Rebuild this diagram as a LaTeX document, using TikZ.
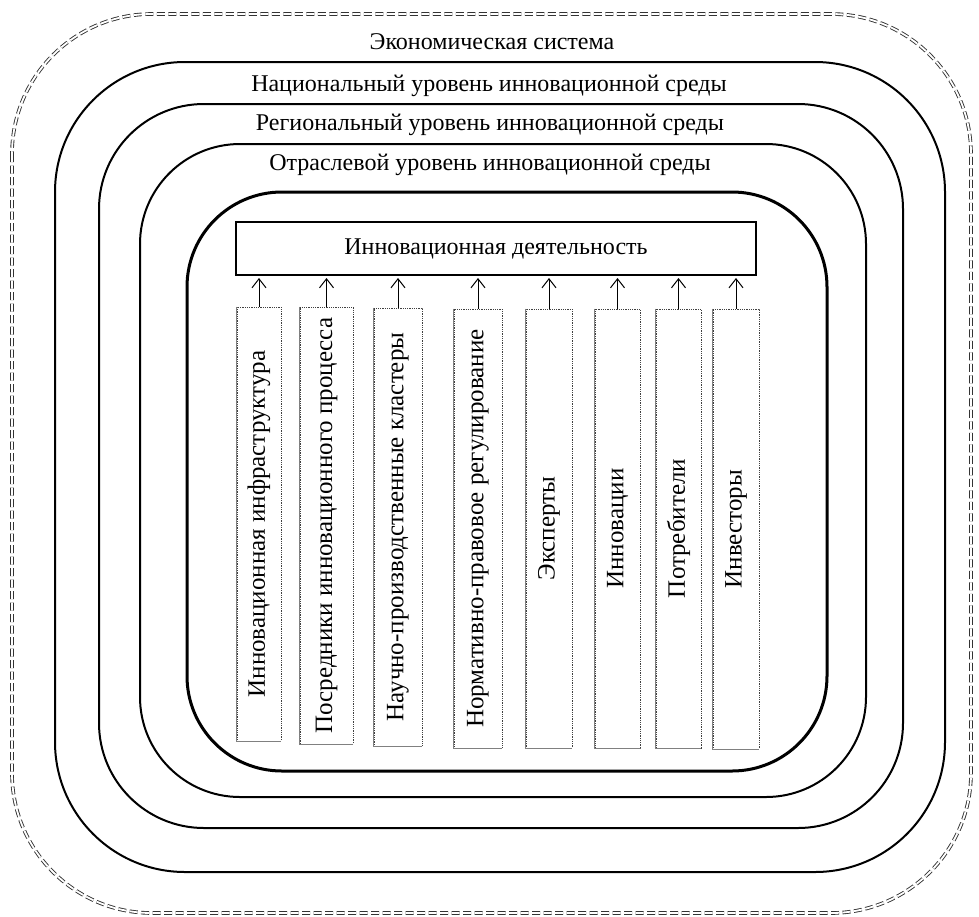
\documentclass[tikz,border=0pt]{standalone}
\usepackage{fontspec}
\setmainfont{Liberation Serif}
\usetikzlibrary{arrows.meta}
\begin{document}
\begin{tikzpicture}[x=1pt,y=-1pt,
  frame/.style={draw=black,line width=2pt},
  lbl/.style={font=\fontsize{24}{28}\selectfont, inner sep=0pt},
  vbox/.style={draw=gray!50!black, densely dotted, line width=0.8pt, inner sep=0pt},
  vtxt/.style={font=\fontsize{25}{29}\selectfont, rotate=90, inner sep=0pt},
  arr/.style={-{Straight Barb[length=9pt,width=14pt,line width=1pt]}, line width=1pt}
]
\useasboundingbox (0,0) rectangle (979,916);
% outer dashed double frame
\draw[double=white, double distance=1.8pt, line width=0.9pt, draw=gray!40!black,
      dash pattern=on 8pt off 3.5pt, rounded corners=140pt] (12,14) rectangle (971,913);
\draw[frame, rounded corners=130pt] (55,62) rectangle (945,872);
\draw[frame, rounded corners=105pt] (99,104) rectangle (903,828);
\draw[frame, rounded corners=100pt] (140,144) rectangle (866,797);
\draw[frame, line width=3pt, rounded corners=95pt] (187,192) rectangle (827,771);

\node[lbl] (eco) at (492,42) {Экономическая система};
\node[lbl] (nat) at (489,86) {Национальный уровень инновационной среды};
\node[lbl] (reg) at (490,125) {Региональный уровень инновационной среды};
\node[lbl] (otr) at (490,165) {Отраслевой уровень инновационной среды};

\node[draw, line width=2pt, minimum width=520pt, minimum height=53pt, inner sep=0pt, lbl] (main) at (496,248.5) {Инновационная деятельность};

\foreach \n/\xa/\xb/\ya/\yb/\t in {
  1/237/281/307/741/{Инновационная инфраструктура},
  2/300/353/307/744/{Посредники инновационного процесса},
  3/374/422/308/746/{Научно-производственные кластеры},
  4/454/502/309/748/{Нормативно-правовое регулирование},
  5/526/572/309/748/{Эксперты},
  6/595/640/309/748/{Инновации},
  7/656/701/309/748/{Потребители},
  8/713/759/309/749/{Инвесторы}} {
  \node[vbox, minimum width={(\xb-\xa)*1pt}, minimum height={(\yb-\ya)*1pt}] (b\n) at ({(\xa+\xb)/2},{(\ya+\yb)/2}) {};
  \draw[gray, line width=0.8pt] (b\n.north west) -- (b\n.south west) -- (b\n.south east);
  \node[vtxt] (t\n) at (b\n.center) {\t};
  \draw[arr] (b\n.north) -- ([yshift=-2pt]b\n.north |- main.south);
}
\end{tikzpicture}
\end{document}
